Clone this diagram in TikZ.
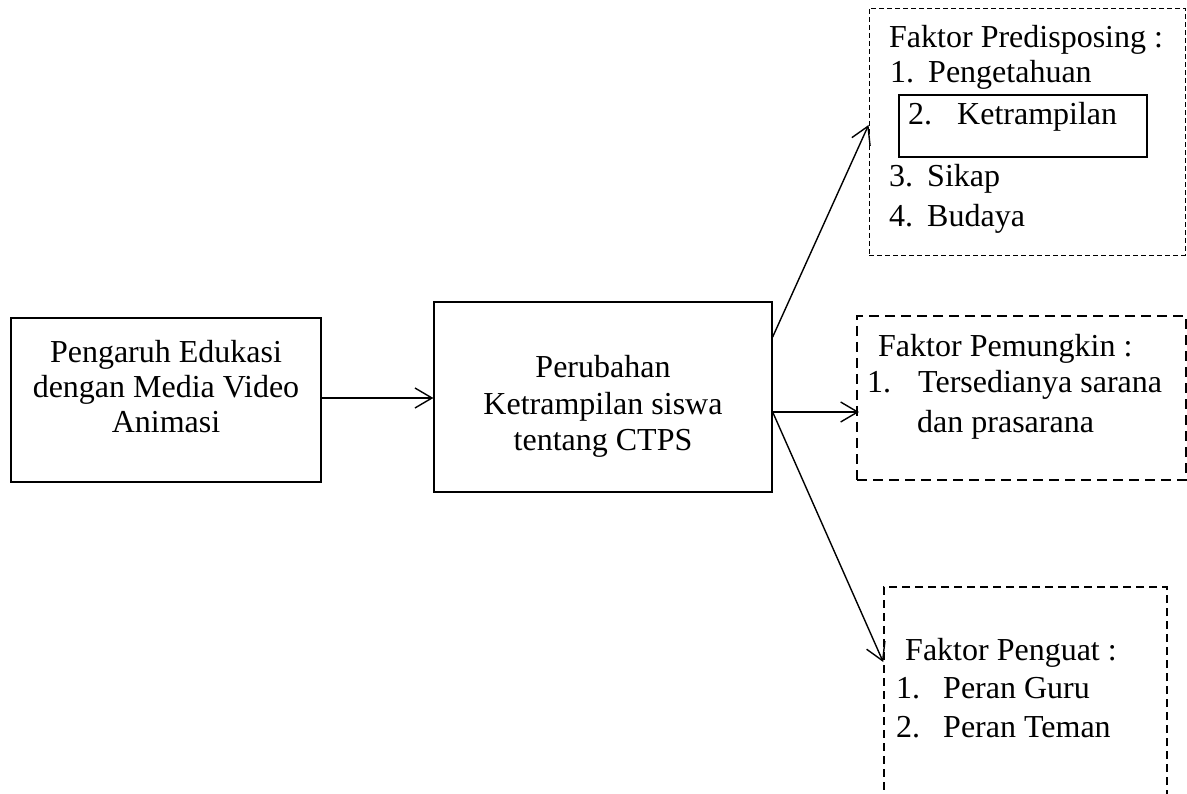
\documentclass[tikz,border=0pt]{standalone}
\usepackage{fontspec}
\setmainfont{Liberation Serif}
\usetikzlibrary{arrows.meta}
\begin{document}
\begin{tikzpicture}[x=1pt,y=-1pt,
  box/.style={draw, line width=1.3pt, rectangle, inner sep=0pt},
  dbox/.style={draw, rectangle, inner sep=0pt},
  txt/.style={anchor=base west, inner sep=0pt, font=\fontsize{32}{37}\selectfont},
  ctxt/.style={anchor=base, inner sep=0pt, font=\fontsize{32}{37}\selectfont},
  conn/.style={line width=1.4pt, -{Straight Barb[length=17pt,width=20pt,line width=1.4pt]}},
]
\useasboundingbox (0,0) rectangle (1187,794);
\clip (0,0) rectangle (1187,794);
% main boxes
\node[box, minimum width=310pt, minimum height=164pt] (A) at (166,400) {};
\node[box, minimum width=338pt, minimum height=190pt] (B) at (603,397) {};
% factor boxes
\node[dbox, line width=0.9pt, dash pattern=on 5pt off 3pt, minimum width=316pt, minimum height=247pt] (P) at (1027,131.5) {};
\node[box, line width=2pt, minimum width=248pt, minimum height=62pt] (K) at (1023,126) {};
\node[dbox, line width=2pt, dash pattern=on 10pt off 6pt, minimum width=329pt, minimum height=164pt] (M) at (1021.5,398) {};
\node[dbox, line width=1.6pt, dash pattern=on 8pt off 5pt, minimum width=283pt, minimum height=240pt] (R) at (1025.5,707) {};
% texts A
\node[ctxt] (a1) at (166,363) {Pengaruh Edukasi};
\node[ctxt] (a2) at (166,398) {dengan Media Video};
\node[ctxt] (a3) at (166,432) {Animasi};
% texts B
\node[ctxt] (b1) at (603,378) {Perubahan};
\node[ctxt] (b2) at (603,414) {Ketrampilan siswa};
\node[ctxt] (b3) at (603,450) {tentang CTPS};
% texts P
\node[txt] (p0) at (889,48) {Faktor Predisposing :};
\node[txt] (p1n) at (890,83) {1.};
\node[txt] (p1) at (928,83) {Pengetahuan};
\node[txt] (p2n) at (908,125) {2.};
\node[txt] (p2) at (957,125) {Ketrampilan};
\node[txt] (p3n) at (889,187) {3.};
\node[txt] (p3) at (927,187) {Sikap};
\node[txt] (p4n) at (889,227) {4.};
\node[txt] (p4) at (927,227) {Budaya};
% texts M
\node[txt] (m0) at (878,357) {Faktor Pemungkin :};
\node[txt] (m1n) at (867,393) {1.};
\node[txt] (m1) at (918,393) {Tersedianya sarana};
\node[txt] (m2) at (917,432) {dan prasarana};
% texts R
\node[txt] (r0) at (905,660) {Faktor Penguat :};
\node[txt] (r1n) at (896,698) {1.};
\node[txt] (r1) at (943,698) {Peran Guru};
\node[txt] (r2n) at (896,737) {2.};
\node[txt] (r2) at (943,737) {Peran Teman};
% connectors
\draw[conn] (A.east |- 0,398) -- (B.west |- 0,398);
\draw[conn] (B.east |- 0,337) -- (P.west |- 0,125);
\draw[conn] (B.east |- 0,412) -- ([xshift=3pt]M.west |- 0,412);
\draw[conn] (B.east |- 0,412) -- (R.west |- 0,662);
\end{tikzpicture}
\end{document}
